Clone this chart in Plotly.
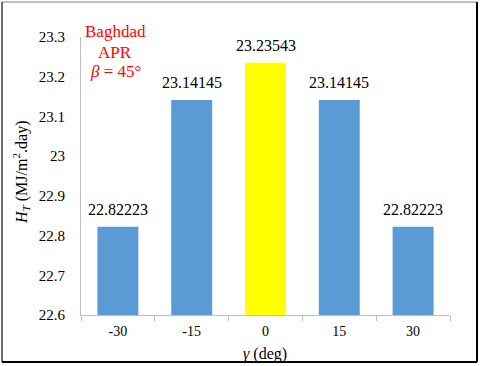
import plotly.graph_objects as go

# ---- data ----
categories = ["-30", "-15", "0", "15", "30"]
values = [22.82223, 23.14145, 23.23543, 23.14145, 22.82223]
value_labels = ["22.82223", "23.14145", "23.23543", "23.14145", "22.82223"]
bar_colors = ["#5B9BD5", "#5B9BD5", "#FFFF00", "#5B9BD5", "#5B9BD5"]
y_tickvals = [22.6, 22.7, 22.8, 22.9, 23.0, 23.1, 23.2, 23.3]
y_ticktext = ["22.6", "22.7", "22.8", "22.9", "23", "23.1", "23.2", "23.3"]
note_lines = ["Baghdad", "APR", "<i>β</i> = 45°"]

W, H = 480, 366
L, R, T, B = 81, 30, 37, 51
PW, PH = W - L - R, H - T - B

def px(xpix):
    return (xpix - L) / PW

def py(ypix):
    return (H - B - ypix) / PH

FONT = "Liberation Serif"

fig = go.Figure()
fig.add_trace(go.Bar(
    x=categories, y=values,
    marker=dict(color=bar_colors, line=dict(width=0)),
    hoverinfo="skip",
))

annotations = []
for i, (v, lab) in enumerate(zip(values, value_labels)):
    annotations.append(dict(
        x=i, y=v, xref="x", yref="y", text=lab, showarrow=False,
        yanchor="middle", yshift=17, font=dict(family=FONT, size=16, color="black"),
    ))

for line, ypix in zip(note_lines, [32, 52, 71]):
    annotations.append(dict(
        x=px(115), y=py(ypix), xref="paper", yref="paper", text=line,
        showarrow=False, xanchor="center", yanchor="middle",
        font=dict(family=FONT, size=17, color="#FF0000"),
    ))

annotations.append(dict(
    x=px(21), y=py(172), xref="paper", yref="paper",
    text="<i>H<sub>T</sub></i> (MJ/m<sup>2</sup>.day)", textangle=-90,
    showarrow=False, xanchor="center", yanchor="middle",
    font=dict(family=FONT, size=16, color="black"),
))
annotations.append(dict(
    x=px(265), y=py(354), xref="paper", yref="paper",
    text="<i>γ</i> (deg)", showarrow=False, xanchor="center", yanchor="middle",
    font=dict(family=FONT, size=16, color="black"),
))

shapes = [
    dict(type="line", xref="paper", yref="paper", x0=px(2), x1=px(477), y0=py(2), y1=py(2),
         line=dict(color="#808080", width=1)),
    dict(type="line", xref="paper", yref="paper", x0=px(2), x1=px(2), y0=py(2), y1=py(362),
         line=dict(color="#404040", width=1.5)),
    dict(type="line", xref="paper", yref="paper", x0=px(477), x1=px(477), y0=py(2), y1=py(362),
         line=dict(color="#000000", width=2)),
    dict(type="line", xref="paper", yref="paper", x0=px(2), x1=px(477), y0=py(362), y1=py(362),
         line=dict(color="#000000", width=2)),
]

fig.update_layout(
    width=W, height=H,
    margin=dict(l=L, r=R, t=T, b=B, pad=0),
    paper_bgcolor="white", plot_bgcolor="white",
    bargap=0.445,
    showlegend=False,
    font=dict(family=FONT, size=15, color="black"),
    annotations=annotations,
    shapes=shapes,
    xaxis=dict(
        type="category", showline=True, linecolor="#BFBFBF", linewidth=1,
        ticks="outside", tickson="boundaries", ticklen=5, tickcolor="#BFBFBF",
        showgrid=False, zeroline=False, ticklabelstandoff=3,
        tickfont=dict(family=FONT, size=14, color="black"),
    ),
    yaxis=dict(
        range=[22.6, 23.3], tickvals=y_tickvals, ticktext=y_ticktext,
        showline=True, linecolor="#BFBFBF", linewidth=1,
        ticks="", showgrid=False, zeroline=False, ticklabelstandoff=12,
        tickfont=dict(family=FONT, size=15, color="black"),
    ),
)

fig.write_html(
    "out.html",
    config={"displayModeBar": False},
    post_script="document.body.style.margin='0';document.body.style.overflow='hidden';",
)
